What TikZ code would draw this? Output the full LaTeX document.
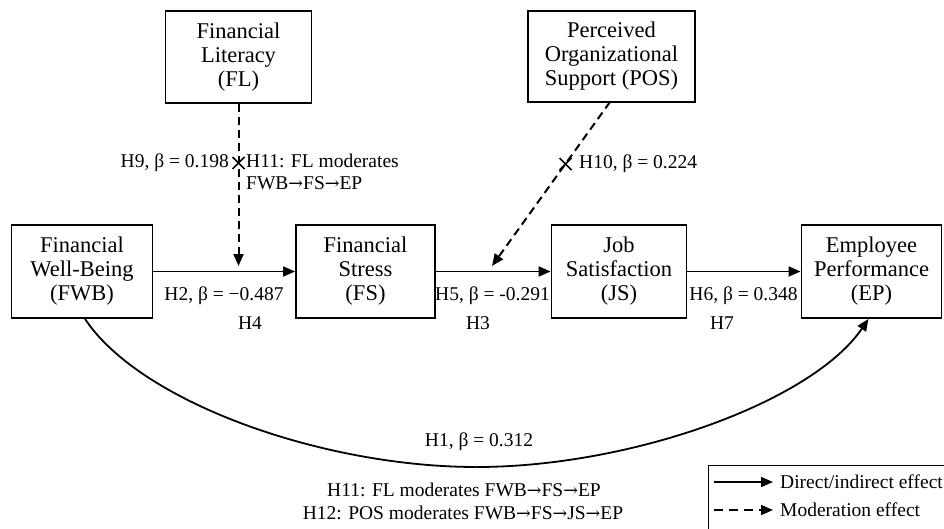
\documentclass[tikz,border=0pt]{standalone}
\usepackage{fontspec}
\setmainfont{Liberation Serif}
\newfontfamily\arrfont{DejaVu Serif}
\usetikzlibrary{arrows.meta,calc}
\newcommand{\myarr}{{\arrfont\scalebox{0.9}{→}}}
\begin{document}
\begin{tikzpicture}[x=1pt,y=-1pt,
  box/.style={draw,line width=1.8pt,align=center,inner sep=0pt,
    font=\fontsize{22.5}{24}\selectfont},
  lbl/.style={font=\fontsize{19.5}{21}\selectfont,inner sep=0pt},
  arr/.style={line width=1.8pt,-{Triangle[length=12pt,width=10pt]}},
  modarr/.style={line width=2pt,dash pattern=on 8pt off 5pt,-{Triangle[length=12pt,width=10pt]}},
  crossmark/.style={line width=1.5pt}]
\useasboundingbox (0,0) rectangle (944,529);
% boxes
\node[box,minimum width=146pt,minimum height=92pt] (FL) at (238.5,57) {Financial\\Literacy\\(FL)};
\node[box,minimum width=167pt,minimum height=91pt] (POS) at (611.5,56.5) {Perceived\\Organizational\\Support (POS)};
\node[box,minimum width=141pt,minimum height=93pt] (FWB) at (82,271.5) {Financial\\Well-Being\\(FWB)};
\node[box,minimum width=139pt,minimum height=93pt] (FS) at (365.5,271.5) {Financial\\Stress\\(FS)};
\node[box,minimum width=135pt,minimum height=93pt] (JS) at (619,271.5) {Job\\Satisfaction\\(JS)};
\node[box,minimum width=140pt,minimum height=93pt] (EP) at (871.5,271.5) {Employee\\Performance\\(EP)};
% direct paths
\draw[arr] (FWB.east) -- (FS.west);
\draw[arr] (FS.east) -- (JS.west);
\draw[arr] (JS.east) -- (EP.west);
% moderation
\coordinate (m1) at (238.5,266);
\coordinate (m2) at (492,266);
\coordinate (pstart) at (610,102);
\draw[modarr] (FL.south) -- (m1);
\draw[modarr] (pstart) -- (m2);
% cross marks
\coordinate (c1) at (238.5,163);
\coordinate (c2) at (565.5,164);
\draw[crossmark] ($(c1)+(-6,-6)$) -- ($(c1)+(6,6)$) ($(c1)+(-6,6)$) -- ($(c1)+(6,-6)$);
\draw[crossmark] ($(c2)+(-6,-6)$) -- ($(c2)+(6,6)$) ($(c2)+(-6,6)$) -- ($(c2)+(6,-6)$);
% labels
\node[lbl,anchor=east] (l9) at (229,163) {H9, β = 0.198};
\node[lbl,anchor=north west,align=left,font=\fontsize{19.5}{22}\selectfont] (l11) at (246,154) {H11: FL moderates\\FWB\myarr FS\myarr EP};
\node[lbl,anchor=west] (l10) at (579,164) {H10, β = 0.224};
\node[lbl] (l2) at (224,296) {H2, β = −0.487};
\node[lbl] (l5) at (492.5,296) {H5, β = -0.291};
\node[lbl] (l6) at (743.5,296) {H6, β = 0.348};
\node[lbl] (h4) at (250,323) {H4};
\node[lbl] (h3) at (478,323) {H3};
\node[lbl] (h7) at (722,323) {H7};
% curved direct path
\coordinate (cs) at ($(FWB.south)+(3,0)$);
\coordinate (ce) at ($(EP.south)+(-3,0)$);
\coordinate (cm) at (476.5,467);
\draw[line width=1.8pt] (cs) .. controls (140,402) and (322,467) .. (cm);
\draw[arr] (cm) .. controls (631,467) and (812,402) .. (ce);
\node[lbl] (l1) at (479,442) {H1, β = 0.312};
\node[lbl] (b1) at (464,490) {H11: FL moderates FWB\myarr FS\myarr EP};
\node[lbl] (b2) at (463,513) {H12: POS moderates FWB\myarr FS\myarr JS\myarr EP};
% legend
\draw[line width=1pt] (708,465) rectangle (950,535);
\coordinate (s1) at (714,482);
\coordinate (e1) at (773,482);
\coordinate (s2) at (714,510);
\coordinate (e2) at (773,510);
\draw[line width=1.8pt,-{Triangle[length=12pt,width=10pt]}] (s1) -- (e1);
\draw[line width=1.8pt,dash pattern=on 9pt off 6pt,-{Triangle[length=12pt,width=10pt]}] (s2) -- (e2);
\node[lbl,anchor=west] (t1) at (780,482) {Direct/indirect effect};
\node[lbl,anchor=west] (t2) at (780,510) {Moderation effect};
\end{tikzpicture}
\end{document}
